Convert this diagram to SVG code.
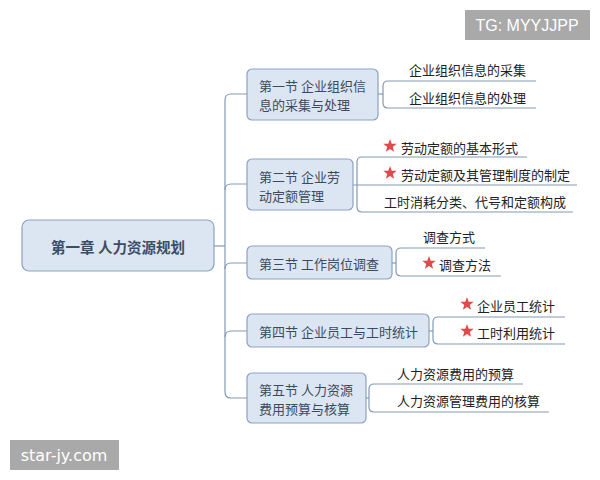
<svg xmlns="http://www.w3.org/2000/svg" width="600" height="480" viewBox="0 0 600 480">
<style>
.node{fill:#dce6f2;stroke:#8ba2c1;stroke-width:1.2}
.nt{font-family:"Noto Sans CJK SC","Noto Sans",sans-serif;font-size:13px;fill:#3b4a5f}
.rt{font-family:"Noto Sans CJK SC","Noto Sans",sans-serif;font-size:14.5px;font-weight:bold;fill:#3b4d69}
.ct{font-family:"Noto Sans CJK SC","Noto Sans",sans-serif;font-size:13px;fill:#222}
.ln{fill:none;stroke:#8499b3;stroke-width:1.2}
.wm{fill:#a9a9a9}
.wt{font-size:16px;fill:#fff}
</style>
<defs>
<path id="star" d="M0,-7 L1.71,-2.35 L6.66,-2.16 L2.77,0.9 L4.11,5.66 L0,2.9 L-4.11,5.66 L-2.77,0.9 L-6.66,-2.16 L-1.71,-2.35 Z" fill="#e04a4a"/>
</defs>
<g id="connectors">
<path class="ln" d="M214,246 H225"/>
<path class="ln" d="M247,94 H231 Q225,94 225,100 V392 Q225,398 231,398 H247"/>
<path class="ln" d="M225,190 Q225,184 231,184 H247"/>
<path class="ln" d="M225,269 Q225,263 231,263 H247"/>
<path class="ln" d="M225,337 Q225,331 231,331 H247"/>
<path class="ln" d="M378,94 H383"/>
<path class="ln" d="M536,81 H388 Q383,81 383,86 V103 Q383,108 388,108 H536"/>
<path class="ln" d="M527,157 H362 Q357,157 357,162 V207 Q357,212 362,212 H573"/>
<path class="ln" d="M353,185 H577"/>
<path class="ln" d="M392,263 H396"/>
<path class="ln" d="M485,248 H401 Q396,248 396,253 V271 Q396,276 401,276 H501"/>
<path class="ln" d="M429,331 H433"/>
<path class="ln" d="M565,317 H438 Q433,317 433,322 V339 Q433,344 438,344 H565"/>
<path class="ln" d="M366,398 H369"/>
<path class="ln" d="M523,384 H374 Q369,384 369,389 V407 Q369,412 374,412 H549"/>
</g>
<g id="root">
<rect class="node" x="22" y="220" width="192" height="51" rx="7"/>
<text class="rt" x="118" y="246" text-anchor="middle" dominant-baseline="central">第一章 人力资源规划</text>
</g>
<g id="n1">
<rect class="node" x="247" y="69" width="131" height="51" rx="5"/>
<text class="nt" dominant-baseline="central"><tspan x="259" y="85">第一节 企业组织信</tspan><tspan x="259" y="104">息的采集与处理</tspan></text>
</g>
<g id="n2">
<rect class="node" x="247" y="159" width="106" height="51" rx="5"/>
<text class="nt" dominant-baseline="central"><tspan x="259" y="175.5">第二节 企业劳</tspan><tspan x="259" y="194.5">动定额管理</tspan></text>
</g>
<g id="n3">
<rect class="node" x="247" y="246" width="145" height="33" rx="5"/>
<text class="nt" x="259" y="263" dominant-baseline="central">第三节 工作岗位调查</text>
</g>
<g id="n4">
<rect class="node" x="247" y="314" width="182" height="33" rx="5"/>
<text class="nt" x="259" y="331" dominant-baseline="central">第四节 企业员工与工时统计</text>
</g>
<g id="n5">
<rect class="node" x="247" y="373" width="119" height="50" rx="5"/>
<text class="nt" dominant-baseline="central"><tspan x="259" y="388.5">第五节 人力资源</tspan><tspan x="259" y="407.5">费用预算与核算</tspan></text>
</g>
<g id="c1a"><text class="ct" x="409" y="69" dominant-baseline="central">企业组织信息的采集</text></g>
<g id="c1b"><text class="ct" x="409" y="97" dominant-baseline="central">企业组织信息的处理</text></g>
<g id="c2a"><use href="#star" x="390" y="146"/><text class="ct" x="401" y="147" dominant-baseline="central">劳动定额的基本形式</text></g>
<g id="c2b"><use href="#star" x="390" y="173"/><text class="ct" x="401" y="174" dominant-baseline="central">劳动定额及其管理制度的制定</text></g>
<g id="c2c"><text class="ct" x="384" y="201" dominant-baseline="central">工时消耗分类、代号和定额构成</text></g>
<g id="c3a"><text class="ct" x="423" y="236" dominant-baseline="central">调查方式</text></g>
<g id="c3b"><use href="#star" x="429" y="263"/><text class="ct" x="439" y="264" dominant-baseline="central">调查方法</text></g>
<g id="c4a"><use href="#star" x="467" y="304"/><text class="ct" x="477" y="305" dominant-baseline="central">企业员工统计</text></g>
<g id="c4b"><use href="#star" x="467" y="331"/><text class="ct" x="477" y="332" dominant-baseline="central">工时利用统计</text></g>
<g id="c5a"><text class="ct" x="397" y="373" dominant-baseline="central">人力资源费用的预算</text></g>
<g id="c5b"><text class="ct" x="397" y="400" dominant-baseline="central">人力资源管理费用的核算</text></g>
<g id="wm1">
<rect class="wm" x="465" y="10" width="125" height="30"/>
<text class="wt" x="527" y="25" text-anchor="middle" dominant-baseline="central" font-family="'Liberation Sans',sans-serif">TG: MYYJJPP</text>
</g>
<g id="wm2">
<rect class="wm" x="10" y="440" width="109" height="30"/>
<text class="wt" x="64" y="455" text-anchor="middle" dominant-baseline="central" font-family="'DejaVu Sans',sans-serif">star-jy.com</text>
</g>
</svg>
